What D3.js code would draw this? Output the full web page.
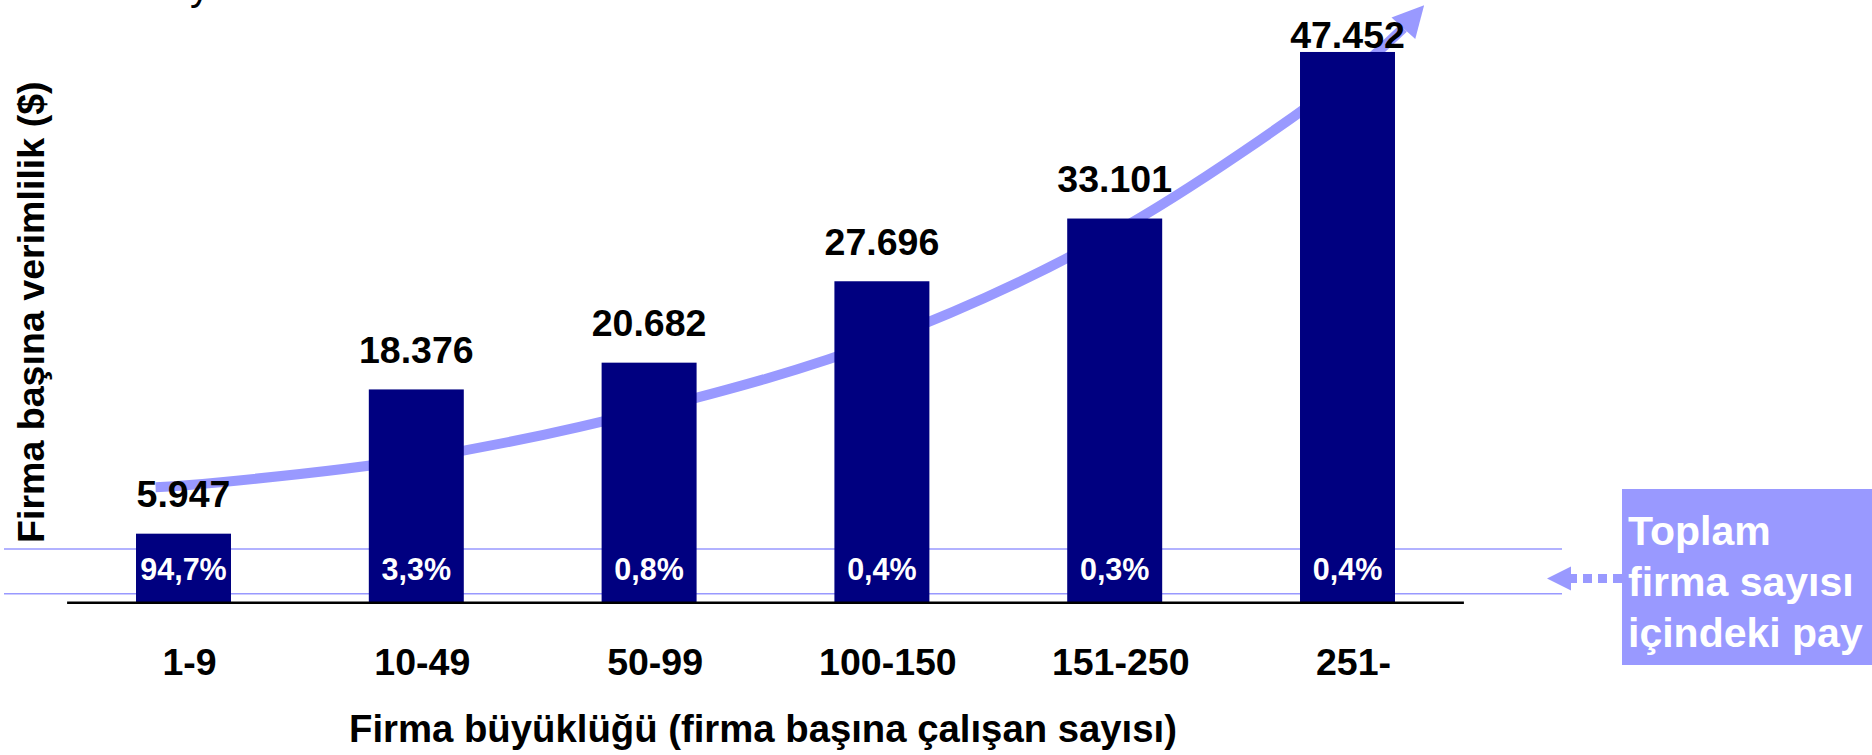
<!DOCTYPE html>
<html>
<head>
<meta charset="utf-8">
<script src="https://cdn.jsdelivr.net/npm/d3@7/dist/d3.min.js"></script>
<style>
  html, body { margin: 0; padding: 0; background: #ffffff; }
  svg { display: block; }
  text { font-family: "Liberation Sans", Arial, Helvetica, sans-serif; font-weight: bold; }
</style>
</head>
<body>
<script>
// ---- data ----
const categories   = ["1-9", "10-49", "50-99", "100-150", "151-250", "251-"];
const productivity = [5947, 18376, 20682, 27696, 33101, 47452];
const shares       = [94.7, 3.3, 0.8, 0.4, 0.3, 0.4];
// trend arrow, in category-index / value units
const trendPos = [-0.12, 0, 1, 2, 3, 4, 5, 5.24];
const trendVal = [9950, 10100, 12400, 16600, 22600, 31900, 45300, 49500];
const yTitle = "Firma başına verimlilik ($)";
const xTitle = "Firma büyüklüğü (firma başına çalışan sayısı)";
const noteLines = ["Toplam", "firma sayısı", "içindeki pay"];

// ---- layout ----
const W = 1872, H = 755;
const NAVY = "#000080", LAV = "#9999ff";
const baseY = 602.7;

const svg = d3.select("body").append("svg").attr("width", W).attr("height", H);

const tr = d3.formatLocale({decimal: ",", thousands: ".", grouping: [3], currency: ["", "$"]});
const fmtVal = tr.format(",");
const fmtPct = tr.format(".1f");

const x = d3.scaleBand().domain(categories).range([67.1, 1463.9])
  .paddingInner(0.592).paddingOuter(0.296);
const y = d3.scaleLinear().domain([0, 50000]).range([baseY, baseY - 50000 * 0.011606]);
const xi = d3.scaleLinear().domain([0, categories.length - 1])
  .range([x(categories[0]) + x.bandwidth() / 2, x(categories[categories.length - 1]) + x.bandwidth() / 2]);

// partial title descender at top (title text cut off by the page edge)
svg.append("text").attr("x", 190).attr("y", 0).attr("font-size", 40)
  .style("font-weight", "normal").attr("fill", "#000").text("y");

// share guide lines
[549, 593.7].forEach(gy => {
  svg.append("line").attr("x1", 4).attr("x2", 1562).attr("y1", gy).attr("y2", gy)
    .attr("stroke", LAV).attr("stroke-width", 1.6);
});

// trend arrow
const trendPts = trendPos.map((p, i) => [xi(p), y(trendVal[i])]);
svg.append("path")
  .attr("d", d3.line().curve(d3.curveCatmullRom.alpha(0.5))(trendPts))
  .attr("fill", "none").attr("stroke", LAV).attr("stroke-width", 10);
{
  const a = trendPts[trendPts.length - 2], b = trendPts[trendPts.length - 1];
  let dx = b[0] - a[0], dy = b[1] - a[1];
  let ang = Math.atan2(dy, dx) - 0.12;
  const ux = Math.cos(ang), uy = Math.sin(ang);
  const len = 31, hw = 16;
  const tip = [b[0] + ux * len, b[1] + uy * len];
  const p1 = [b[0] - uy * hw, b[1] + ux * hw];
  const p2 = [b[0] + uy * hw, b[1] - ux * hw];
  svg.append("path").attr("d", `M${tip}L${p1}L${p2}Z`).attr("fill", LAV);
}

// bars
svg.selectAll("rect.bar").data(productivity).join("rect").attr("class", "bar")
  .attr("x", (d, i) => x(categories[i]))
  .attr("y", d => y(d))
  .attr("width", x.bandwidth())
  .attr("height", d => baseY - y(d))
  .attr("fill", NAVY);

// value labels
svg.selectAll("text.val").data(productivity).join("text").attr("class", "val")
  .attr("x", (d, i) => x(categories[i]) + x.bandwidth() / 2)
  .attr("y", d => Math.max(y(d) - 26.5, 48))
  .attr("text-anchor", "middle").attr("font-size", 37.5).attr("fill", "#000")
  .text(d => fmtVal(d));

// share labels
svg.selectAll("text.pct").data(shares).join("text").attr("class", "pct")
  .attr("x", (d, i) => x(categories[i]) + x.bandwidth() / 2)
  .attr("y", 580)
  .attr("text-anchor", "middle").attr("font-size", 30.5).attr("fill", "#fff")
  .text(d => fmtPct(d) + "%");

// axis baseline
svg.append("line").attr("x1", 67.1).attr("x2", 1463.9).attr("y1", baseY).attr("y2", baseY)
  .attr("stroke", "#000").attr("stroke-width", 2.6);

// category labels (axis)
const xAxis = d3.axisBottom(x).tickSize(0).tickPadding(0);
const gx = svg.append("g").attr("transform", `translate(0,${baseY})`).call(xAxis);
gx.select(".domain").remove();
gx.selectAll("text").attr("dy", null).attr("y", 72).attr("x", 6)
  .attr("font-size", 37.5).attr("fill", "#000")
  .style("font-family", "'Liberation Sans', Arial, sans-serif").style("font-weight", "bold");

// axis titles
svg.append("text").attr("transform", "translate(44,543) rotate(-90)")
  .attr("text-anchor", "start").attr("font-size", 37.6).attr("fill", "#000").text(yTitle);
svg.append("text").attr("x", 763).attr("y", 742).attr("text-anchor", "middle")
  .attr("font-size", 38.3).attr("fill", "#000").text(xTitle);

// note box with dotted arrow
svg.append("rect").attr("x", 1622).attr("y", 489).attr("width", W - 1622).attr("height", 176)
  .attr("fill", LAV);
svg.append("line").attr("x1", 1622).attr("x2", 1569).attr("y1", 578.5).attr("y2", 578.5)
  .attr("stroke", LAV).attr("stroke-width", 9).attr("stroke-dasharray", "9,6");
svg.append("path").attr("d", "M1547,578.5L1571,566.5L1571,590.5Z").attr("fill", LAV);
svg.selectAll("text.note").data(noteLines).join("text").attr("class", "note")
  .attr("x", 1628).attr("y", (d, i) => 545 + i * 51)
  .attr("font-size", 41).attr("fill", "#fff").text(d => d);
</script>
</body>
</html>
